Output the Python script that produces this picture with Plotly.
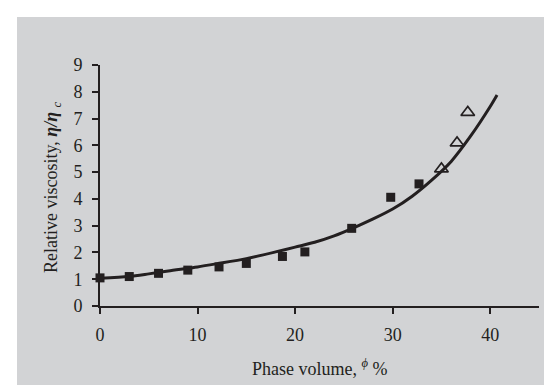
import plotly.graph_objects as go

# Measured data (Phase volume %, relative viscosity)
sq_x = [0, 3, 6, 9, 12.2, 15, 18.7, 21, 25.8, 29.8, 32.7]
sq_y = [1.05, 1.1, 1.22, 1.34, 1.46, 1.59, 1.85, 2.02, 2.9, 4.06, 4.56]
tri_x = [35.0, 36.6, 37.7]
tri_y = [5.12, 6.09, 7.23]
# Fitted curve
curve_x = [0, 3, 5, 7, 10, 12, 15, 18, 20, 22, 24, 26, 28, 30, 32, 34, 36, 38, 40, 40.7]
curve_y = [1.04, 1.1, 1.2, 1.31, 1.46, 1.58, 1.77, 2.02, 2.2, 2.38, 2.62, 2.92, 3.25, 3.62, 4.1, 4.7, 5.4, 6.35, 7.45, 7.88]
x_ticks = [0, 10, 20, 30, 40]
y_ticks = [0, 1, 2, 3, 4, 5, 6, 7, 8, 9]

INK = "#231f20"
GRAY = "#d2d3d5"
FONT = "Liberation Serif"

W, H = 552, 385
L, R, T, B = 92, 21, 57, 87
pw, ph = W - L - R, H - T - B

def px(xp):
    return (xp - L) / pw

def py(yp):
    return (H - B - yp) / ph

fig = go.Figure()
fig.add_trace(go.Scatter(x=curve_x, y=curve_y, mode="lines",
                         line=dict(color=INK, width=3, shape="spline", smoothing=0.8),
                         cliponaxis=False, showlegend=False, hoverinfo="skip"))
fig.add_trace(go.Scatter(x=sq_x, y=sq_y, mode="markers",
                         marker=dict(symbol="square", size=9, color=INK),
                         cliponaxis=False, showlegend=False))
fig.add_trace(go.Scatter(x=tri_x, y=tri_y, mode="markers",
                         marker=dict(symbol="triangle-up-open", size=12, color=INK,
                                     line=dict(width=1.6, color=INK)),
                         cliponaxis=False, showlegend=False))

fig.add_shape(type="rect", xref="paper", yref="paper",
              x0=px(9), x1=px(W + 5), y0=py(H + 5), y1=py(9),
              fillcolor=GRAY, line=dict(width=0), layer="below")

fig.add_annotation(text="Phase volume, <sup><i>ϕ</i></sup> %", xref="paper", yref="paper",
                   x=0.5, y=py(359), xanchor="center", yanchor="middle",
                   showarrow=False, font=dict(family=FONT, size=18, color=INK))
fig.add_annotation(text="Relative viscosity, <b><i>η/η</i></b> <sub><i>c</i></sub>",
                   xref="paper", yref="paper",
                   x=px(44), y=py(179), xanchor="center", yanchor="middle", textangle=-90,
                   showarrow=False, font=dict(family=FONT, size=18, color=INK))

fig.update_layout(
    width=W, height=H,
    margin=dict(l=L, r=R, t=T, b=B, pad=0),
    paper_bgcolor="white", plot_bgcolor=GRAY,
    font=dict(family=FONT, color=INK),
    xaxis=dict(range=[0, 45], tickvals=x_ticks, showgrid=False, zeroline=False,
               showline=True, linecolor=INK, linewidth=2, ticks="outside",
               ticklen=6, tickwidth=2, tickcolor=INK,
               tickfont=dict(family=FONT, size=18, color=INK), ticklabelstandoff=5),
    yaxis=dict(range=[0, 9], tickvals=y_ticks, showgrid=False, zeroline=False,
               showline=True, linecolor=INK, linewidth=2, ticks="outside",
               ticklen=6, tickwidth=2, tickcolor=INK,
               tickfont=dict(family=FONT, size=18, color=INK), ticklabelstandoff=6),
)

fig.write_html("out.html")
